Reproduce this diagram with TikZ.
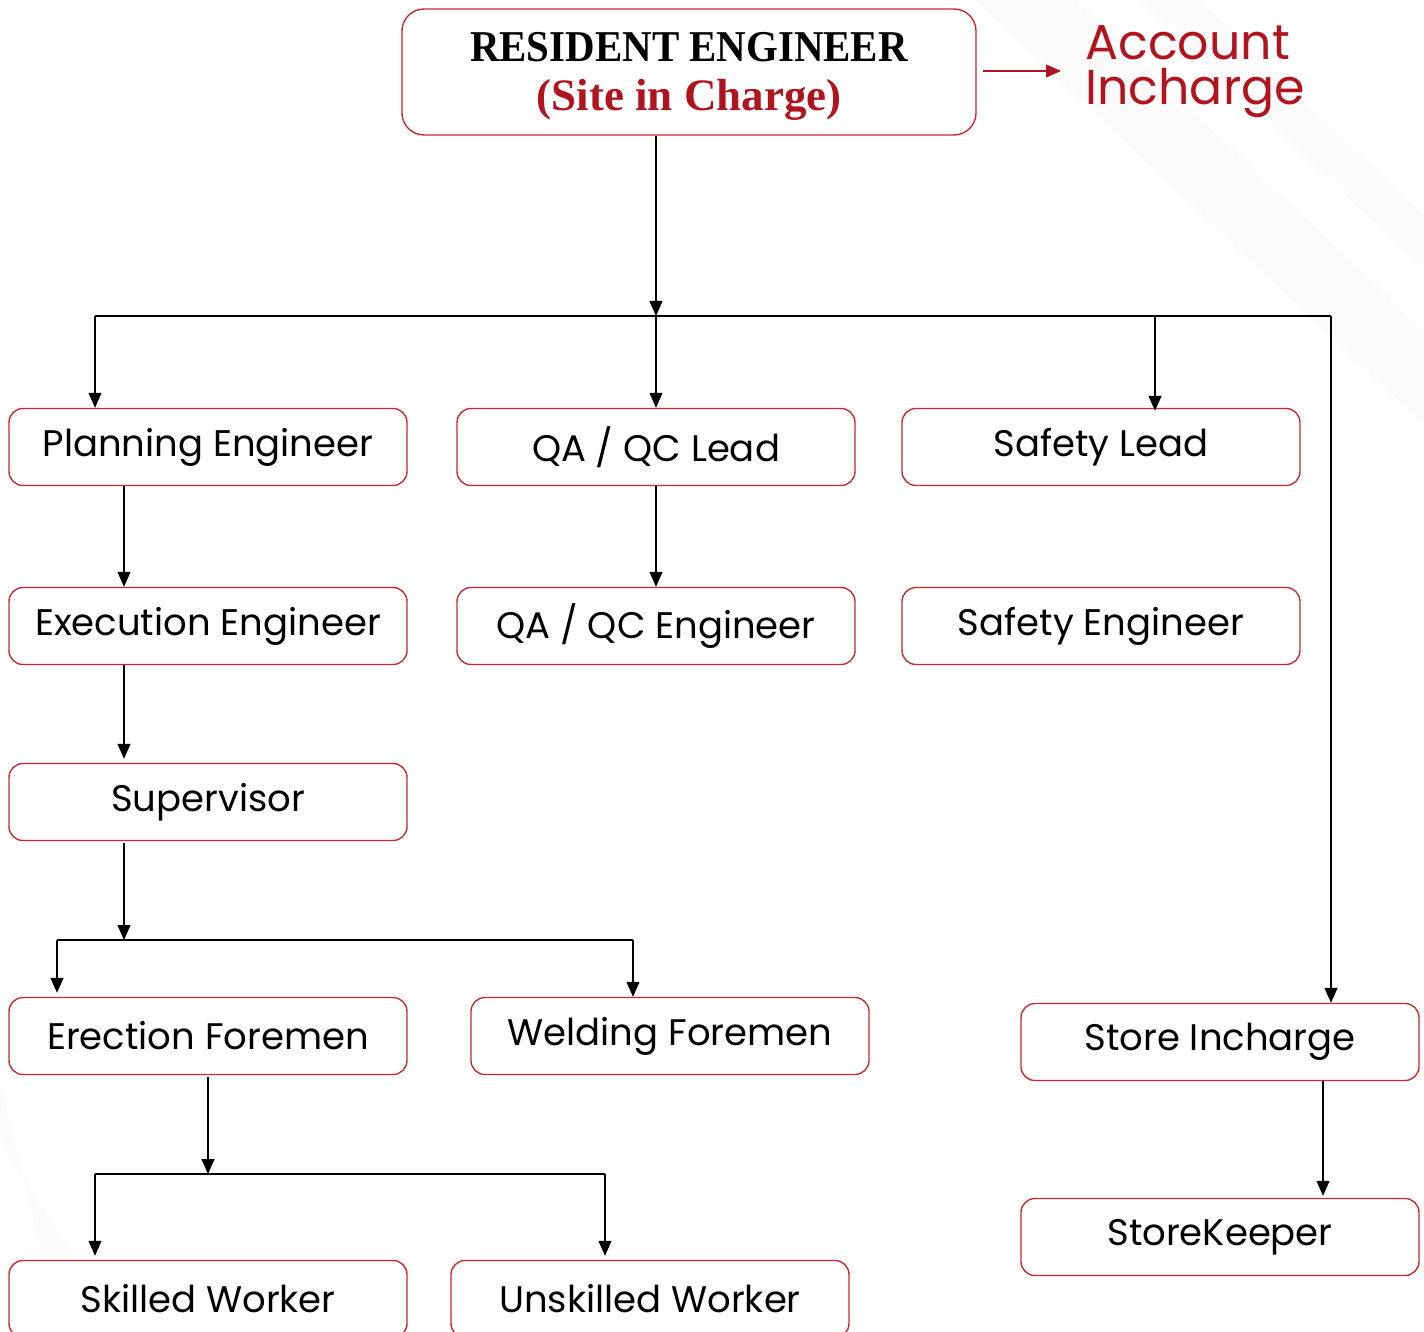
\documentclass[tikz,border=0pt]{standalone}
\usepackage{fontspec}
\setmainfont{Poppins}
\newfontfamily\titlefont[FakeStretch=0.93]{Liberation Serif}
\newfontfamily\subtitlefont{Liberation Serif}
\usetikzlibrary{arrows.meta}

\definecolor{brandred}{HTML}{B0141E}
\definecolor{boxred}{HTML}{C62A30}

\tikzset{
  post/.style={draw=boxred, line width=0.7pt, rounded corners=7pt, fill=white,
    minimum width=199pt, minimum height=38.5pt, inner sep=0pt,
    font=\fontsize{18.5}{20}\selectfont},
  link/.style={line width=0.6pt, -{Triangle[length=7.5pt,width=6.5pt]}},
  bus/.style={line width=0.6pt},
}

\begin{document}
\begin{tikzpicture}[x=0.5pt, y=-0.5pt]
\useasboundingbox (0,0) rectangle (1424,1332);

% faint background stripes
\fill[black!2] (975,0) -- (1075,0) -- (1424,330) -- (1424,425) -- cycle;
\fill[black!1.5] (1140,0) -- (1200,0) -- (1424,215) -- (1424,270) -- cycle;
\fill[black!1.5] (0,1080) -- (0,1140) -- (120,1332) -- (60,1332) -- cycle;

% top
\node[draw=boxred, line width=0.7pt, rounded corners=11pt, minimum width=287pt,
  minimum height=63pt, inner sep=0pt] (re) at (689,72) {};
\node[align=center, inner sep=0pt,
  font=\titlefont\bfseries\fontsize{22}{24.5}\selectfont] (retitle)
  at ([yshift=-2pt]re.center)
  {RESIDENT ENGINEER\\
   \subtitlefont\bfseries\fontsize{22.5}{24.5}\selectfont\textcolor{brandred}{(Site in Charge)}};
\node[anchor=west, align=left, inner sep=0pt, text=brandred,
  font=\fontsize{24.5}{22.5}\selectfont] (acc) at (1085,72) {Account\\Incharge};
\draw[link, brandred] ([xshift=3pt,yshift=0.5pt]re.east) -- ([xshift=-12pt,yshift=0.5pt]re.east -| acc.west);

% second row
\node[post] (plan) at (208,447) {Planning Engineer};
\node[post] (qalead) at (656,447) {QA / QC Lead};
\node[post] (safelead) at (1101,447) {Safety Lead};

\node[post] (exec) at (208,626) {Execution Engineer};
\node[post] (qaeng) at (656,626) {QA / QC Engineer};
\node[post] (safeeng) at (1101,626) {Safety Engineer};

\node[post] (sup) at (208,802) {Supervisor};

\node[post] (erect) at (208,1036) {Erection Foremen};
\node[post] (weld) at (670,1036) {Welding Foremen};

\node[post] (skill) at (208,1299) {Skilled Worker};
\node[post] (unskill) at (650,1299) {Unskilled Worker};

\node[post] (store) at (1220,1042) {Store Incharge};
\node[post] (keeper) at (1220,1237) {StoreKeeper};

% bus points
\coordinate (hub) at (656,316);
\coordinate (busL) at (95,316);
\coordinate (busS) at (1155,316);
\coordinate (busR) at (1331,316);
\coordinate (drop) at (124,0);
\coordinate (foreHub) at (124,940);
\coordinate (foreL) at (57,940);
\coordinate (foreR) at (633,940);
\coordinate (workHub) at (208,1174);
\coordinate (workL) at (95,1174);
\coordinate (workR) at (605,1174);
\coordinate (keepDrop) at (1323,0);

% connectors
\draw[link] (re.south -| hub) -- (hub);
\draw[bus] (busL) -- (busR);
\draw[link] (busL) -- (busL |- plan.north);
\draw[link] (hub) -- (qalead.north);
\draw[link] (busS) -- ([yshift=-1.5pt]busS |- safelead.north);
\draw[link] (busR) -- (busR |- store.north);

\draw[link] (plan.south -| drop) -- (exec.north -| drop);
\draw[link] (qalead.south) -- (qaeng.north);
\draw[link] (exec.south -| drop) -- ([yshift=2pt]sup.north -| drop);

\draw[link] ([yshift=-1pt]sup.south -| drop) -- (foreHub);
\draw[bus] (foreL) -- (foreR);
\draw[link] (foreL) -- ([yshift=2pt]foreL |- erect.north);
\draw[link] (foreR) -- (foreR |- weld.north);

\draw[link] ([yshift=-1pt]erect.south) -- (workHub);
\draw[bus] (workL) -- (workR);
\draw[link] (workL) -- ([yshift=2pt]workL |- skill.north);
\draw[link] (workR) -- ([yshift=2pt]workR |- unskill.north);

\draw[link] (store.south -| keepDrop) -- ([yshift=1pt]keeper.north -| keepDrop);

\end{tikzpicture}
\end{document}
